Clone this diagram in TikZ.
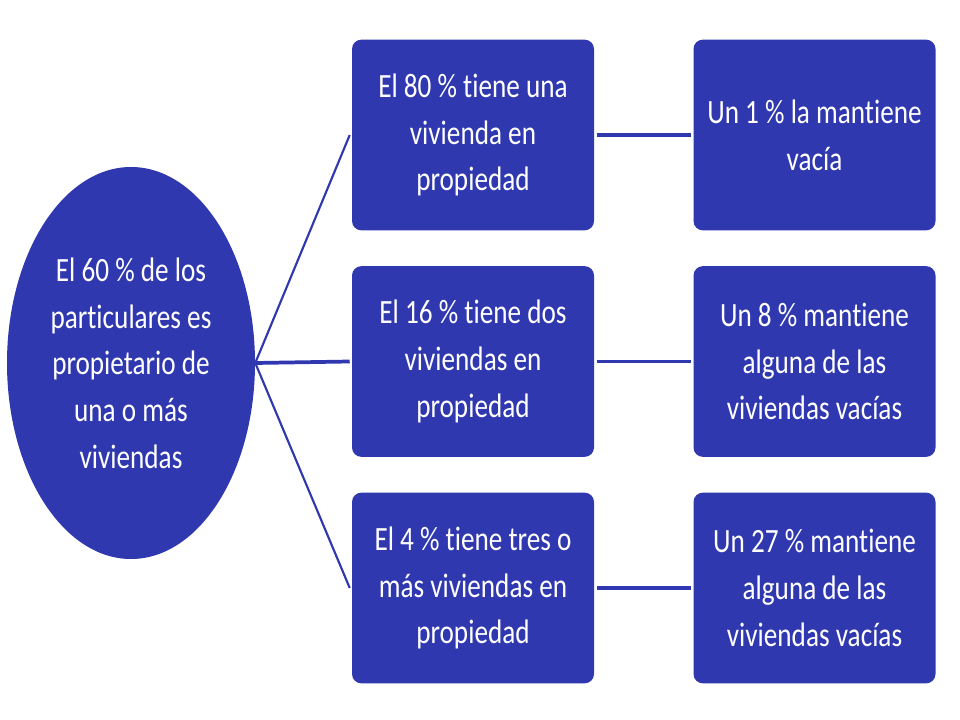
\documentclass[tikz,border=0pt]{standalone}
\usepackage{fontspec}
\setmainfont{Carlito}[FakeStretch=0.8,Ligatures=NoCommon]
\usetikzlibrary{shapes.geometric}
\definecolor{boxblue}{RGB}{48,56,176}
\begin{document}
\begin{tikzpicture}[x=0.75pt,y=-0.75pt,
  box/.style={fill=boxblue,draw=none,rounded corners=7pt,minimum width=181.5pt,minimum height=143pt,text=white,align=center,font=\fontsize{25.5}{35}\selectfont,inner sep=0pt},
  oval/.style={ellipse,fill=boxblue,draw=none,minimum width=186pt,minimum height=294pt,text=white,align=center,font=\fontsize{25.5}{35}\selectfont,inner sep=0pt},
  conn/.style={draw=boxblue,line width=2.8pt},
  diag/.style={draw=boxblue,line width=1.6pt}]
\useasboundingbox (0,0) rectangle (960,720);
\fill[white] (0,0) rectangle (960,720);
\node[oval] (root) at (131,363) {El 60 \% de los\\particulares es\\propietario de\\una o más\\viviendas};
\node[box] (a1) at (473,135) {El 80 \% tiene una\\vivienda en\\propiedad};
\node[box] (a2) at (473,361.5) {El 16 \% tiene dos\\viviendas en\\propiedad};
\node[box] (a3) at (473,588) {El 4 \% tiene tres o\\más viviendas en\\propiedad};
\node[box] (b1) at (814.5,135) {Un 1 \% la mantiene\\vacía};
\node[box] (b2) at (814.5,361.5) {Un 8 \% mantiene\\alguna de las\\viviendas vacías};
\node[box] (b3) at (814.5,588) {Un 27 \% mantiene\\alguna de las\\viviendas vacías};
\coordinate (j) at (root.east);
\draw[diag] (j) -- ([xshift=-1.5pt]a1.west);
\draw[conn] (j) -- ([xshift=-1.5pt]a2.west);
\draw[diag] (j) -- ([xshift=-1.5pt]a3.west);
\draw[conn] ([xshift=2pt]a1.east) -- ([xshift=-2pt]b1.west);
\draw[conn] ([xshift=2pt]a2.east) -- ([xshift=-2pt]b2.west);
\draw[conn] ([xshift=2pt]a3.east) -- ([xshift=-2pt]b3.west);
\end{tikzpicture}
\end{document}
